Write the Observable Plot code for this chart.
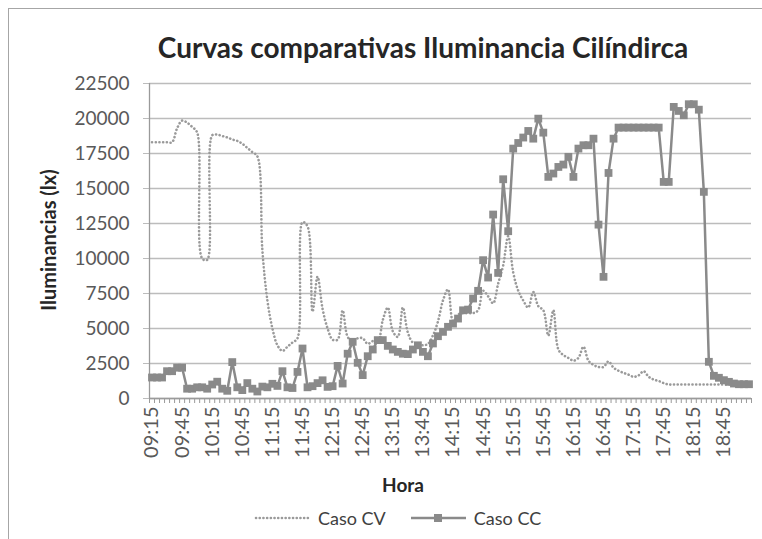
<!DOCTYPE html>
<html><head><meta charset="utf-8">
<script src="https://cdn.jsdelivr.net/npm/d3@7"></script>
<script src="https://cdn.jsdelivr.net/npm/@observablehq/plot@0.6"></script>
<style>
html,body{margin:0;padding:0;background:#fff;}
#wrap{position:relative;width:762px;height:539px;overflow:hidden;font-family:Lato,"Open Sans",sans-serif;background:#fff;}
#border{position:absolute;left:8px;top:8px;width:900px;height:700px;border:1.5px solid #a6a6a6;box-sizing:border-box;}
#chart{position:absolute;left:0;top:0;}
.t{position:absolute;white-space:nowrap;transform:translate(-50%,-50%);}
#title{left:423px;top:47px;font-size:28px;font-weight:bold;color:#262626;}
#ytitle{left:48px;top:240px;font-size:20px;font-weight:bold;color:#262626;transform:translate(-50%,-50%) rotate(-90deg);}
#xtitle{left:403px;top:484px;font-size:19px;font-weight:bold;color:#262626;}
#legend{position:absolute;left:254px;top:505px;height:26px;display:flex;align-items:center;font-size:18px;color:#404040;}
</style></head>
<body>
<div id="wrap">
  <div id="border"></div>
  <div id="chart"></div>
  <div id="title" class="t">Curvas comparativas Iluminancia Cilíndirca</div>
  <div id="ytitle" class="t">Iluminancias (lx)</div>
  <div id="xtitle" class="t">Hora</div>
  <div id="legend"></div>
</div>
<script>
const hora = [
"09:15","09:20","09:25","09:30","09:35","09:40","09:45","09:50","09:55",
"10:00","10:05","10:10","10:15","10:20","10:25","10:30","10:35","10:40","10:45","10:50","10:55",
"11:00","11:05","11:10","11:15","11:20","11:25","11:30","11:35","11:40","11:45","11:50","11:55",
"12:00","12:05","12:10","12:15","12:20","12:25","12:30","12:35","12:40","12:45","12:50","12:55",
"13:00","13:05","13:10","13:15","13:20","13:25","13:30","13:35","13:40","13:45","13:50","13:55",
"14:00","14:05","14:10","14:15","14:20","14:25","14:30","14:35","14:40","14:45","14:50","14:55",
"15:00","15:05","15:10","15:15","15:20","15:25","15:30","15:35","15:40","15:45","15:50","15:55",
"16:00","16:05","16:10","16:15","16:20","16:25","16:30","16:35","16:40","16:45","16:50","16:55",
"17:00","17:05","17:10","17:15","17:20","17:25","17:30","17:35","17:40","17:45","17:50","17:55",
"18:00","18:05","18:10","18:15","18:20","18:25","18:30","18:35","18:40","18:45","18:50","18:55",
"19:00","19:05","19:10"];

const tickLabels = ["09:15","09:45","10:15","10:45","11:15","11:45","12:15","12:45","13:15","13:45",
"14:15","14:45","15:15","15:45","16:15","16:45","17:15","17:45","18:15","18:45"];

const yTicks = [0,2500,5000,7500,10000,12500,15000,17500,20000,22500];

const casoCV = [18300,18300,18300,18300,18300,19300,19850,19700,19400,19000,
 10000,9900,18800,18850,18750,18650,18500,18400,18200,17900,
 17600,17300,10600,7000,5000,3800,3400,3700,4000,4300,
 12600,12300,6200,8700,6400,5000,4200,4200,6300,4400,
 4100,4300,4300,3900,4100,4000,5600,6500,4800,4400,
 6500,4700,4000,3900,3800,3900,4500,5500,7000,7800,
 5500,6000,6100,6100,6100,6300,7700,7300,6800,8200,
 9500,11600,9000,7700,7000,6500,7600,6600,6300,4500,
 6300,3500,3100,2900,2700,2900,3700,2700,2400,2250,
 2250,2650,2200,1980,1830,1700,1550,1650,1950,1550,
 1350,1250,1100,1000,1000,1000,1000,1000,1000,1000,
 1000,1000,1000,1000,1000,1000,1000,1000,1000,1000];

const casoCC = [1500,1500,1500,1950,1950,2200,2200,700,700,800,
 800,700,1000,1200,700,550,2600,800,600,1100,
 700,500,850,800,1050,900,1950,800,750,1900,
 3570,800,880,1100,1300,830,880,2330,1070,3200,
 4050,2550,1670,3020,3500,4170,4170,3760,3500,3330,
 3200,3170,3500,3800,3330,3020,3930,4450,4760,5120,
 5350,5710,6300,6350,7140,7690,9880,8640,13140,8970,
 15660,11950,17850,18250,18640,19110,18560,19990,18990,15830,
 16070,16540,16710,17260,15830,17850,18090,18090,18560,12420,
 8690,16110,18560,19350,19350,19350,19350,19350,19350,19350,
 19350,19350,15470,15470,20830,20540,20230,21020,21020,20630,
 14760,2620,1620,1480,1310,1190,1070,1020,1020,1020];

const series = ["Caso CV", "Caso CC"];

const data = hora.map((h, i) => ({i, pos: i + 0.5, h, cv: casoCV[i], cc: casoCC[i]}));
const labelPos = hora.map((h, i) => tickLabels.includes(h) ? i + 0.5 : null).filter(d => d !== null);

const chart = Plot.plot({
  width: 762, height: 539,
  marginLeft: 149, marginRight: 11, marginTop: 83, marginBottom: 141,
  x: {domain: [0, hora.length]},
  y: {domain: [0, 22500]},
  style: {fontFamily: "Lato, 'Open Sans', sans-serif", fontSize: "19px", background: "transparent", overflow: "visible"},
  marks: [
    Plot.gridY(yTicks, {stroke: "#bcbcbc", strokeOpacity: 1, strokeWidth: 1.3}),
    Plot.axisY(yTicks, {tickSize: 6, tickPadding: 14, label: null, tickFormat: d => String(d), stroke: "#bcbcbc", fill: "#595959", fontSize: 19}),
    Plot.axisX(d3.range(hora.length + 1), {tickSize: 5, tickFormat: () => "", label: null, stroke: "#9a9a9a"}),
    Plot.axisX(labelPos, {tickSize: 0, tickPadding: 8, tickRotate: -90, tickFormat: d => hora[Math.floor(d)], label: null, fill: "#595959", fontSize: 20}),
    Plot.ruleY([0], {stroke: "#9a9a9a", strokeWidth: 1.3}),
    Plot.ruleX([0], {stroke: "#9a9a9a", strokeWidth: 1.3}),
    Plot.line(data, {x: "pos", y: "cv", curve: "catmull-rom", stroke: "#9a9a9a", strokeWidth: 2.6, strokeDasharray: "0.1,3.6", strokeLinecap: "round"}),
    Plot.line(data, {x: "pos", y: "cc", stroke: "#8a8a8a", strokeWidth: 2.5}),
    Plot.dot(data, {x: "pos", y: "cc", symbol: "square", r: 4.4, fill: "#8a8a8a", stroke: "none"})
  ]
});
document.getElementById("chart").appendChild(chart);

const lg = document.getElementById("legend");
lg.innerHTML =
  `<svg width="58" height="10"><line x1="2" y1="5" x2="54" y2="5" stroke="#9a9a9a" stroke-width="2.6" stroke-linecap="round" stroke-dasharray="0.1,3.6"/></svg>` +
  `<span style="margin-left:6px;margin-right:24px">${series[0]}</span>` +
  `<svg width="58" height="12"><line x1="1" y1="6" x2="56" y2="6" stroke="#8a8a8a" stroke-width="2.5"/><rect x="24" y="2" width="8" height="8" fill="#8a8a8a"/></svg>` +
  `<span style="margin-left:6px">${series[1]}</span>`;
</script>
</body></html>
